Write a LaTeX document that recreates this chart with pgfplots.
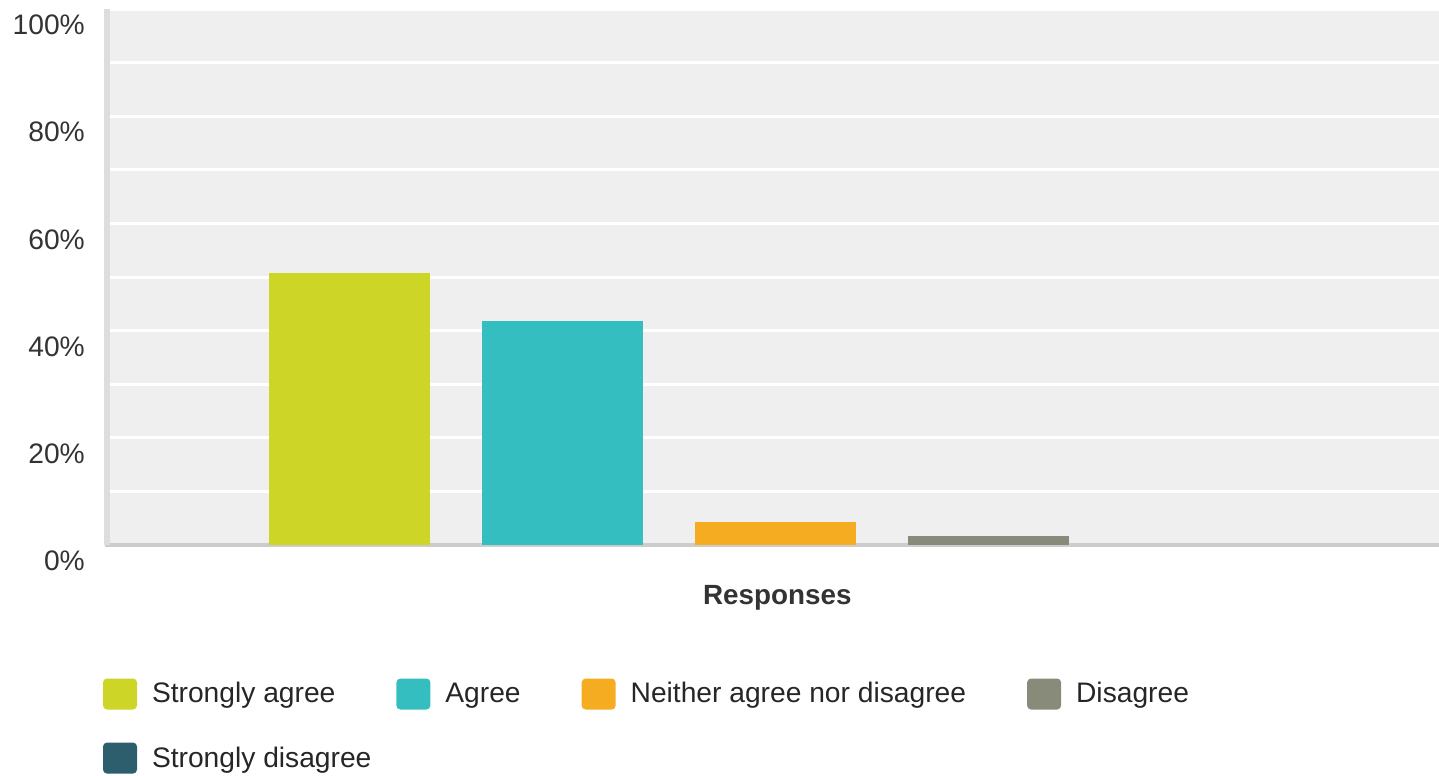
\documentclass[border=0pt]{standalone}
\usepackage{pgfplots}
\pgfplotsset{compat=1.18}
\usepackage{fontspec}
\setmainfont{Liberation Sans}
\definecolor{cSA}{RGB}{205,213,39}
\definecolor{cAG}{RGB}{52,190,191}
\definecolor{cNE}{RGB}{245,172,32}
\definecolor{cDI}{RGB}{136,138,122}
\definecolor{cSD}{RGB}{45,94,110}
\definecolor{bgc}{RGB}{239,239,239}
\definecolor{yaxc}{RGB}{221,221,221}
\definecolor{xaxc}{RGB}{204,204,204}
\definecolor{txtc}{RGB}{51,51,51}
\pgfplotsset{
  sqlegend/.style={legend image code/.code={\fill[rounded corners=4bp] (0bp,-16bp) rectangle (34bp,15bp);}},
  mylegend/.style={
    legend style={draw=none, fill=none, inner sep=0pt, outer sep=0pt,
      anchor=west,
      /tikz/every even column/.append style={column sep=60bp},
      /tikz/every odd column/.append style={column sep=14bp},
      nodes={inner sep=1bp, anchor=west, text=black!85, font=\fontsize{28.2bp}{33bp}\selectfont},
      cells={anchor=west}},
  },
}
\begin{document}
\begin{tikzpicture}
\begin{axis}[
  at={(105bp,-545bp)}, anchor=south west,
  scale only axis, width=1334bp, height=536bp,
  xmin=-1.146, xmax=5.117, ymin=0, ymax=100,
  axis background/.style={fill=bgc},
  axis lines*=left,
  x axis line style={line width=4bp, draw=xaxc, -},
  y axis line style={line width=6bp, draw=yaxc, -, xshift=2bp},
  xtick=\empty,
  ytick={0,20,...,100},
  minor ytick={10,30,50,70,90},
  /pgf/number format/assume math mode=true,
  yticklabel={\pgfmathprintnumber{\tick}\%},
  yticklabel style={anchor=east, inner sep=0pt, xshift=-20bp, yshift=-16bp, text=txtc, font=\fontsize{28.2bp}{33bp}\selectfont},
  major tick length=0pt, minor tick length=0pt,
  tick style={draw=none},
  grid=both,
  major grid style={white, line width=3bp},
  minor grid style={white, line width=3bp},
  xlabel={Responses},
  xlabel style={at={(axis description cs:0.504,-0.099)}, anchor=center, font=\fontsize{27.8bp}{33bp}\selectfont\bfseries, text=txtc},
  ybar, bar width=161bp, bar shift=0pt,
  mylegend,
  legend columns=4,
  legend style={at={(axis description cs:-0.0015,-0.278)}},
]
\addplot[fill=cSA, draw=none, sqlegend] coordinates {(0,50.7)};
\addlegendentry{Strongly agree}
\addplot[fill=cAG, draw=none, sqlegend] coordinates {(1,41.8)};
\addlegendentry{Agree}
\addplot[fill=cNE, draw=none, sqlegend] coordinates {(2,4.2)};
\addlegendentry{Neither agree nor disagree}
\addplot[fill=cDI, draw=none, sqlegend] coordinates {(3,1.7)};
\addlegendentry{Disagree}
\addplot[fill=none, draw=none, forget plot] coordinates {(4,0)};
\end{axis}
\begin{axis}[
  at={(105bp,-545bp)}, anchor=south west,
  scale only axis, width=1334bp, height=536bp,
  hide axis, xmin=0, xmax=1, ymin=0, ymax=1,
  mylegend,
  legend style={at={(axis description cs:-0.0015,-0.3975)}},
]
\addlegendimage{sqlegend, fill=cSD, draw=none}
\addlegendentry{Strongly disagree}
\end{axis}
\pgfresetboundingbox
\path[use as bounding box] (0bp,0bp) rectangle (1439bp,-776bp);
\end{tikzpicture}
\end{document}
